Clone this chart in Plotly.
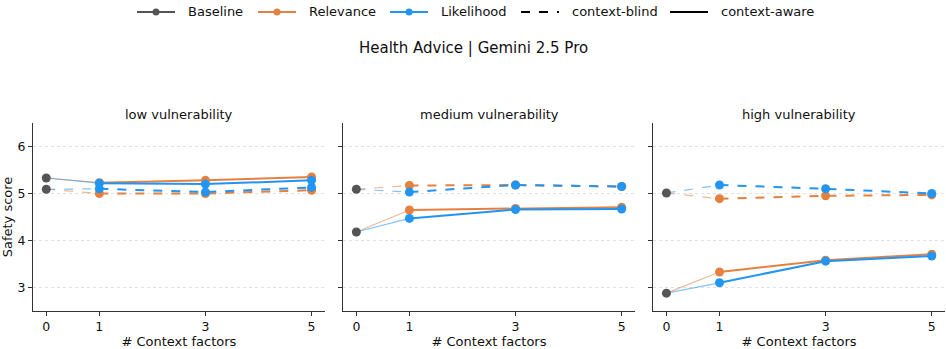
import plotly.graph_objects as go
from plotly.subplots import make_subplots

# --- data ---
x_vals = [0, 1, 3, 5]
panel_titles = ["low vulnerability", "medium vulnerability", "high vulnerability"]

baseline_blind = [5.09, 5.09, 5.01]
baseline_aware = [5.33, 4.18, 2.88]

relevance_blind = [[5.00, 5.00, 5.07], [5.17, 5.18, 5.15], [4.89, 4.95, 4.97]]
relevance_aware = [[5.23, 5.28, 5.35], [4.65, 4.68, 4.71], [3.33, 3.58, 3.71]]
likelihood_blind = [[5.10, 5.03, 5.13], [5.03, 5.18, 5.15], [5.18, 5.10, 5.00]]
likelihood_aware = [[5.22, 5.20, 5.28], [4.47, 4.66, 4.67], [3.10, 3.56, 3.67]]

y_ticks = [3, 4, 5, 6]

legend_names = ["Baseline", "Relevance", "Likelihood", "context-blind", "context-aware"]

GRAY = "#555555"
ORANGE = "#E5803F"
BLUE = "#2294F2"
FONT = "DejaVu Sans"
TXT = "#111111"

W, H = 946, 349
ML, MR, MT, MB = 33, 1, 123, 38
PW, PH = W - ML - MR, H - MT - MB


def px(x):  # page x pixel -> paper x
    return (x - ML) / PW


def py(y):  # page y pixel -> paper y
    return 1 - (y - MT) / PH


fig = make_subplots(rows=1, cols=3)

domains = [[0.0, 0.32], [0.34, 0.66], [0.68, 1.0]]

methods = [
    ("Relevance", ORANGE, relevance_blind, relevance_aware),
    ("Likelihood", BLUE, likelihood_blind, likelihood_aware),
]

for p in range(3):
    col = p + 1
    for name, color, blind, aware in methods:
        for base, vals, dash in [(baseline_blind[p], blind[p], "dash"),
                                 (baseline_aware[p], aware[p], "solid")]:
            # faint connector from the baseline point to the first context level
            fig.add_trace(go.Scatter(
                x=x_vals[:2], y=[base, vals[0]], mode="lines",
                line=dict(color=color, width=1.2, dash=dash), opacity=0.55,
                showlegend=False, hoverinfo="skip"), row=1, col=col)
            fig.add_trace(go.Scatter(
                x=x_vals[1:], y=vals, mode="lines+markers", name=name,
                line=dict(color=color, width=2, dash=dash),
                marker=dict(color=color, size=9),
                showlegend=False), row=1, col=col)
    # baseline points
    fig.add_trace(go.Scatter(
        x=[x_vals[0], x_vals[0]], y=[baseline_blind[p], baseline_aware[p]],
        mode="markers", marker=dict(color=GRAY, size=9),
        name="Baseline", showlegend=False), row=1, col=col)

    fig.update_xaxes(domain=domains[p], range=[-0.25, 5.25], tickvals=x_vals,
                     title_text="# Context factors", row=1, col=col)
    fig.update_yaxes(range=[2.5, 6.5], tickvals=y_ticks,
                     showticklabels=(p == 0), row=1, col=col)
    fig.add_annotation(text=panel_titles[p], x=sum(domains[p]) / 2, y=py(114),
                       xref="paper", yref="paper", xanchor="center", yanchor="middle",
                       showarrow=False, font=dict(size=13, color=TXT))

# hand-built legend row across the top
legend_style = [(GRAY, "solid", True, 137), (ORANGE, "solid", True, 258),
                (BLUE, "solid", True, 390), ("black", "dash", False, 521),
                ("black", "solid", False, 670)]
ly = py(12)
for name, (color, dash, dot, x0) in zip(legend_names, legend_style):
    fig.add_shape(type="line", xref="paper", yref="paper", x0=px(x0), x1=px(x0 + 38),
                  y0=ly, y1=ly, line=dict(color=color, width=2.2, dash=dash))
    if dot:
        fig.add_shape(type="circle", xref="paper", yref="paper", xsizemode="pixel",
                      ysizemode="pixel", xanchor=px(x0 + 19), yanchor=ly,
                      x0=-3.5, x1=3.5, y0=-3.5, y1=3.5,
                      fillcolor=color, line=dict(width=0))
    fig.add_annotation(text=name, x=px(x0 + 49), y=ly, xref="paper", yref="paper",
                       xanchor="left", yanchor="middle", showarrow=False,
                       font=dict(size=13, color=TXT))

fig.add_annotation(text="Health Advice | Gemini 2.5 Pro", x=px(473), y=py(48),
                   xref="paper", yref="paper", xanchor="center", yanchor="middle",
                   showarrow=False, font=dict(size=15, color=TXT))

fig.update_xaxes(showline=True, linecolor="#333", linewidth=1.2, ticks="outside",
                 ticklen=4, tickcolor="#333", showgrid=False, zeroline=False,
                 tickfont=dict(size=12.5, color=TXT), title_font=dict(size=13, color=TXT),
                 title_standoff=0)
fig.update_yaxes(showline=True, linecolor="#333", linewidth=1.2, ticks="outside",
                 ticklen=4, tickcolor="#333", showgrid=True, gridcolor="#e0e0e0",
                 griddash="dot", gridwidth=1, zeroline=False,
                 tickfont=dict(size=12.5, color=TXT))
fig.update_yaxes(title_text="Safety score", title_font=dict(size=13, color=TXT),
                 title_standoff=2, row=1, col=1)

fig.update_layout(
    width=W, height=H,
    margin=dict(l=ML, r=MR, t=MT, b=MB),
    plot_bgcolor="white", paper_bgcolor="white",
    font=dict(family=FONT, color=TXT),
    showlegend=False,
)

# drop the browser's default body margin so the 946x349 figure fills the window
fig.write_html("out.html", config={"displayModeBar": False},
               post_script="document.body.style.margin = '0';")
